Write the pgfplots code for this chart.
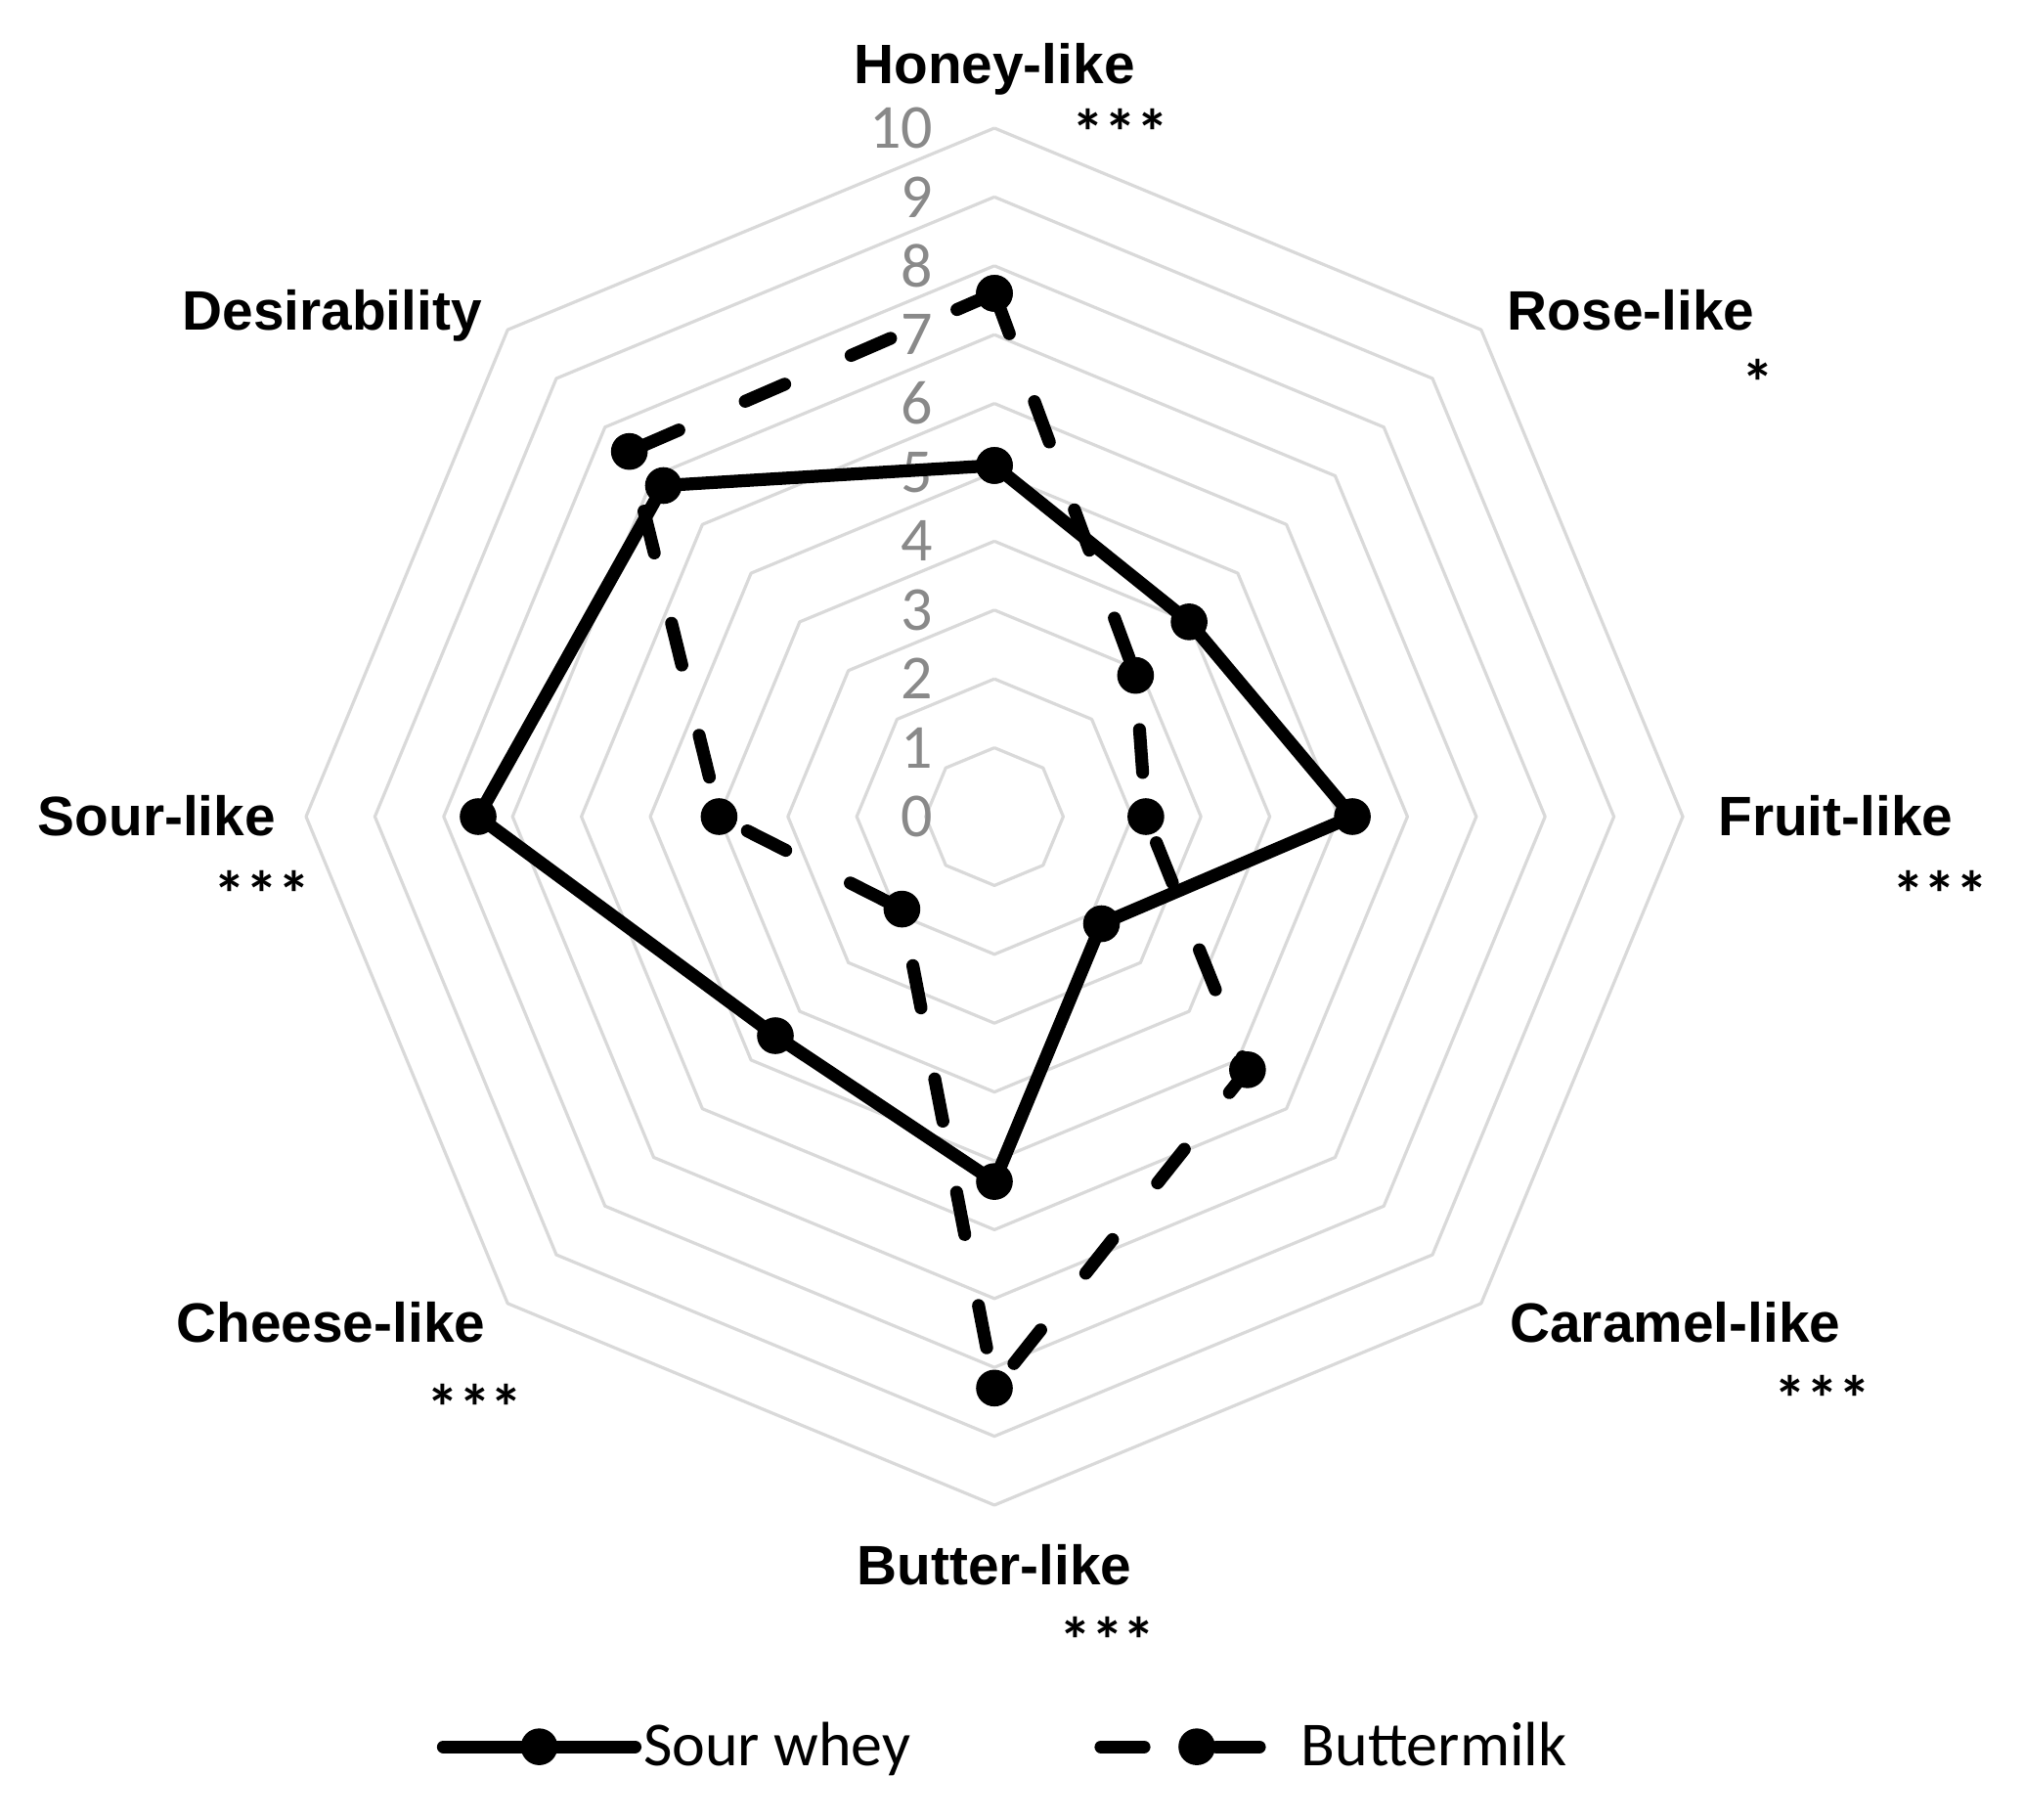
\documentclass[border=0pt]{standalone}
\usepackage{fontspec}
\setmainfont{Carlito}
\newfontfamily\arialfont{Liberation Sans}
\usepackage{pgfplots}
\pgfplotsset{compat=1.18}

\definecolor{ringgray}{HTML}{D9D9D9}
\definecolor{tickgray}{HTML}{898989}

% radar values, order: Honey, Rose, Fruit, Caramel, Butter, Cheese, Sour, Desirability
% angle 90 = Honey-like, going clockwise in steps of 45

\begin{document}
\begin{tikzpicture}
\begin{axis}[
  x=17.6pt, y=17.6pt,
  xmin=-14.446, xmax=14.957, ymin=-14.560, ymax=11.861,
  hide axis, clip=false,
  legend columns=2,
  legend style={at={(axis cs:-8.11,-13.51)}, anchor=west, draw=none, fill=none,
    font=\fontsize{16}{19}\selectfont, inner sep=0pt,
    nodes={inner xsep=0.5pt, inner ysep=0pt},
    /tikz/every even column/.append style={column sep=46.5pt}},
  legend image code/.code={%
    \draw[#1, mark repeat=2, mark phase=2] plot coordinates {(0pt,0pt) (24.5pt,0pt) (49pt,0pt)};},
]
\path (rel axis cs:0,0) rectangle (rel axis cs:1,1);

% octagonal grid
\pgfplotsinvokeforeach{1,...,10}{
  \addplot[forget plot, ringgray, line width=0.8pt, line join=round, data cs=polar]
    coordinates {(90,#1)(45,#1)(0,#1)(-45,#1)(-90,#1)(-135,#1)(180,#1)(135,#1)(90,#1)};
}

% scale labels
\pgfplotsinvokeforeach{0,...,10}{
  \node[anchor=east, inner sep=0pt, text=tickgray, font=\fontsize{16}{19}\selectfont]
    at (axis cs:-0.88,#1) {#1};
}

\addplot[black, line width=3.3pt, line join=round, line cap=round, data cs=polar,
  mark=*, mark size=4.5pt, mark options={solid, fill=black, line width=0.4pt}]
  coordinates {(90,5.1)(45,4.0)(0,5.2)(-45,2.2)(-90,5.3)(-135,4.5)(180,7.5)(135,6.8)(90,5.1)};
\addlegendentry{Sour whey}

\addplot[black, line width=3.3pt, line join=round, line cap=round, data cs=polar,
  dash pattern=on 11pt off 18.5pt,
  mark=*, mark size=4.5pt, mark options={solid, fill=black, line width=0.4pt}]
  coordinates {(90,7.6)(45,2.9)(0,2.2)(-45,5.2)(-90,8.3)(-135,1.9)(180,4.0)(135,7.5)(90,7.6)};
\addlegendentry{Buttermilk}

% category labels and significance marks
\tikzset{cat/.style={anchor=base, inner sep=0pt, font=\arialfont\bfseries\fontsize{14.2}{17}\selectfont},
         sig/.style={anchor=base, inner sep=0pt, font=\bfseries\fontsize{16.5}{19}\selectfont}}
\node[cat] at (axis cs:0,10.65) {Honey-like};
\node[sig] at (axis cs:1.83,9.61) {***};
\node[cat] at (axis cs:9.25,7.07) {Rose-like};
\node[sig] at (axis cs:11.09,5.98) {*};
\node[cat] at (axis cs:12.22,-0.28) {Fruit-like};
\node[sig] at (axis cs:13.74,-1.46) {***};
\node[cat] at (axis cs:9.89,-7.63) {Caramel-like};
\node[sig] at (axis cs:12.03,-8.78) {***};
\node[cat] at (axis cs:0.0,-11.16) {Butter-like};
\node[sig] at (axis cs:1.64,-12.29) {***};
\node[cat] at (axis cs:-9.64,-7.63) {Cheese-like};
\node[sig] at (axis cs:-7.55,-8.92) {***};
\node[cat] at (axis cs:-12.17,-0.28) {Sour-like};
\node[sig] at (axis cs:-10.64,-1.46) {***};
\node[cat] at (axis cs:-9.62,7.07) {Desirability};
\end{axis}
\end{tikzpicture}
\end{document}
